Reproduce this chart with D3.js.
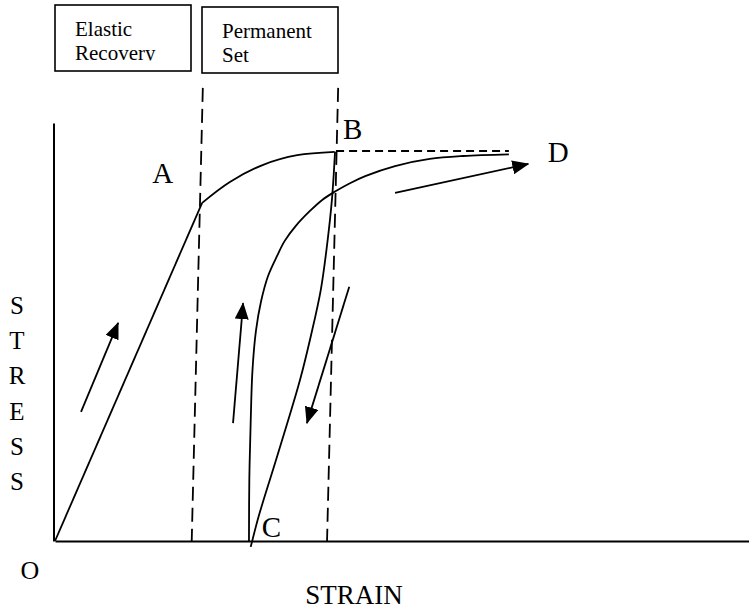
<!DOCTYPE html>
<html>
<head>
<meta charset="utf-8">
<script src="https://cdn.jsdelivr.net/npm/d3@7"></script>
<style>
  html, body { margin: 0; padding: 0; background: #fff; }
  svg { display: block; }
  text { font-family: "Liberation Serif", "Times New Roman", serif; fill: #000; }
</style>
</head>
<body>
<svg id="chart" width="749" height="611"></svg>
<script>
// Stress-strain loop, values in percent of the axis range: [strain, stress]
const elasticLoading = [[0, 0], [21.2, 80.9]];
const plasticLoading = [[21.2, 80.9], [25.2, 85.9], [30.0, 90.0], [34.9, 92.3], [40.3, 93.1]];
const unloading = [[40.35, 93.1], [39.9, 81.6], [39.2, 70.8], [38.3, 60.1], [36.9, 49.3],
                   [35.3, 38.5], [33.4, 27.8], [31.4, 17.0], [29.4, 6.2], [28.2, -1.4]];
const reloading = [[27.95, 0], [28.0, 14.6], [28.2, 28.7], [28.45, 40.7], [28.95, 50.2],
                   [29.7, 57.4], [30.7, 63.4], [32.0, 68.2], [33.1, 71.8], [34.7, 75.4],
                   [36.7, 78.9], [38.5, 81.6], [40.35, 83.6], [42.5, 85.6], [44.7, 87.3],
                   [49.0, 89.7], [54.0, 91.4], [58.8, 92.1], [65.4, 92.5]];
const peakLevel = [[40.5, 93.3], [65.4, 93.3]];
const zoneBounds = [
  [[21.3, 108.4], [19.7, 0]],
  [[40.8, 108.4], [39.2, 0]]
];
const directionArrows = [
  [[3.75, 30.9], [9.1, 52.2]],
  [[25.65, 28.2], [27.1, 56.9]],
  [[42.4, 60.8], [36.3, 28.2]],
  [[49.0, 83.3], [68.2, 90.2]]
];
const pointNames = ["A", "B", "C", "D"];
const pointAt = [[14.0, 85.6], [41.5, 96.2], [29.8, 1.0], [71.0, 90.7]];
const zoneTitles = [["Elastic", "Recovery"], ["Permanent", "Set"]];
const stressLetters = ["S", "T", "R", "E", "S", "S"];
const originLabel = "O";
const strainLabel = "STRAIN";

const svg = d3.select("#chart");

const x = d3.scaleLinear().domain([0, 100]).range([55, 749]);
const y = d3.scaleLinear().domain([0, 100]).range([541, 123]);

// arrow head for the direction indicators
svg.append("defs").append("marker")
  .attr("id", "head")
  .attr("viewBox", "0 0 17 14")
  .attr("refX", 16).attr("refY", 7)
  .attr("markerWidth", 17).attr("markerHeight", 14)
  .attr("markerUnits", "userSpaceOnUse")
  .attr("orient", "auto")
  .append("path").attr("d", "M0,0 L17,7 L0,14 Z").attr("fill", "#000");

// axes: bare lines, no ticks
svg.append("g").attr("transform", `translate(0,${y(0)})`)
  .call(d3.axisBottom(x).ticks(0).tickSizeOuter(0))
  .call(g => g.select(".domain").attr("stroke", "#000").attr("stroke-width", 2.2));
svg.append("g").attr("transform", `translate(${x(0) - 1.5},0)`)
  .call(d3.axisLeft(y).ticks(0).tickSizeOuter(0))
  .call(g => g.select(".domain").attr("stroke", "#000").attr("stroke-width", 2));

const straight = d3.line().x(d => x(d[0])).y(d => y(d[1]));
const smooth = d3.line().x(d => x(d[0])).y(d => y(d[1])).curve(d3.curveCatmullRom.alpha(0.5));

// zone boundaries
svg.selectAll("path.zone").data(zoneBounds).join("path")
  .attr("class", "zone")
  .attr("d", straight)
  .attr("fill", "none").attr("stroke", "#000").attr("stroke-width", 1.8)
  .attr("stroke-dasharray", "14,7");

// peak stress level
svg.append("path").attr("d", straight(peakLevel))
  .attr("fill", "none").attr("stroke", "#000").attr("stroke-width", 1.8)
  .attr("stroke-dasharray", "8,5");

// loading, unloading, reloading curves
svg.append("path").attr("d", straight(elasticLoading))
  .attr("fill", "none").attr("stroke", "#000").attr("stroke-width", 1.8);
[plasticLoading, unloading, reloading].forEach(c => {
  svg.append("path").attr("d", smooth(c))
    .attr("fill", "none").attr("stroke", "#000").attr("stroke-width", 1.8);
});

// direction arrows
svg.selectAll("path.dir").data(directionArrows).join("path")
  .attr("class", "dir")
  .attr("d", straight)
  .attr("fill", "none").attr("stroke", "#000").attr("stroke-width", 1.8)
  .attr("marker-end", "url(#head)");

// point letters
svg.selectAll("text.pt").data(pointNames).join("text")
  .attr("class", "pt")
  .attr("x", (d, i) => x(pointAt[i][0]))
  .attr("y", (d, i) => y(pointAt[i][1]))
  .attr("font-size", 29)
  .text(d => d);

// zone title boxes
const boxes = [{x: 55, y: 5, w: 136, h: 66, clip: 60.5}, {x: 202, y: 7, w: 136, h: 66, clip: 66}];
const defs = svg.select("defs");
boxes.forEach((b, i) => {
  defs.append("clipPath").attr("id", "clip" + i)
    .append("rect").attr("x", b.x).attr("y", b.y).attr("width", b.w).attr("height", b.clip - b.y);
  svg.append("rect").attr("x", b.x).attr("y", b.y).attr("width", b.w).attr("height", b.h)
    .attr("fill", "#fff").attr("stroke", "#000").attr("stroke-width", 1.6);
  const t = svg.append("text").attr("clip-path", `url(#clip${i})`).attr("font-size", 21);
  zoneTitles[i].forEach((line, j) => {
    t.append("tspan").attr("x", b.x + 20).attr("y", b.y + 31 + j * 23.5).text(line);
  });
});

// axis titles
svg.selectAll("text.stress").data(stressLetters).join("text")
  .attr("class", "stress")
  .attr("x", 17).attr("y", (d, i) => 314 + i * 35.2)
  .attr("text-anchor", "middle")
  .attr("font-size", 25)
  .text(d => d);
svg.append("text").attr("x", 30).attr("y", 579).attr("text-anchor", "middle")
  .attr("font-size", 26).text(originLabel);
svg.append("text").attr("x", 354).attr("y", 604).attr("text-anchor", "middle")
  .attr("font-size", 27).text(strainLabel);
</script>
</body>
</html>
